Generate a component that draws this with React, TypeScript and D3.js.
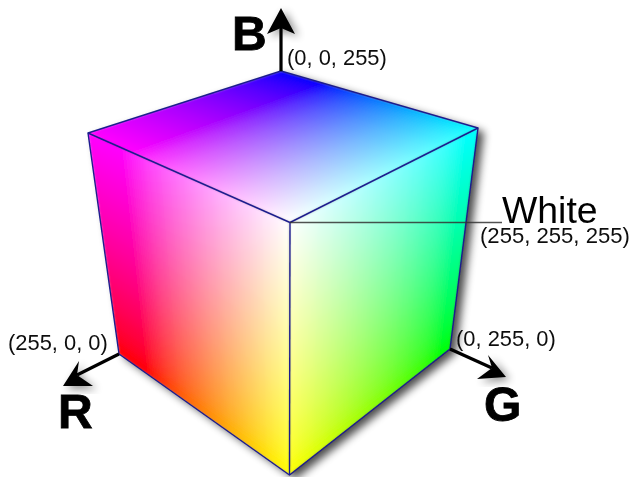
import React from "react";
import * as d3 from "d3";

const WIDTH = 632;
const HEIGHT = 477;
const GRID = 64;

// Screen position of each cube corner, keyed by its R,G,B channels
const cornerKeys = ["001", "101", "011", "111", "100", "010", "110"];
const cornerX = [281, 88, 478, 290, 119, 450, 289.5];
const cornerY = [71, 133, 128, 222.5, 354, 349, 475];

// Each face: corners (a, b, c, d) going a->b along u and a->c along v
const faceNames = ["top", "left", "right"];
const faceCorners = [
  ["001", "011", "101", "111"],
  ["101", "111", "100", "110"],
  ["111", "011", "110", "010"],
];
// Fraction of each face that stays saturated at start/end of u and v
const faceBandU = [[0.22, 1], [0.17, 1], [0, 0.95]];
const faceBandV = [[0, 1], [0, 1], [0, 1]];
const channelGamma = 0.72;

const axisNames = ["B", "R", "G"];
const axisFrom = [[281, 71], [119, 354], [450, 349]];
const axisTip = [[281, 8], [63, 386], [506, 377]];
const axisWingA = [[267, 34], [79, 361], [488, 355]];
const axisWingB = [[295, 34], [93, 386], [477, 379]];
const axisNotch = [[281, 28], [77, 375], [492, 368]];

const axisLabelX = [232, 58, 484];
const axisLabelY = [50, 428, 421];

const noteTexts = ["(0, 0, 255)", "(255, 0, 0)", "(0, 255, 0)", "(255, 255, 255)"];
const noteX = [287, 8, 456, 480];
const noteY = [65, 350, 346, 243];

const pos = (key: string): [number, number] => {
  const i = cornerKeys.indexOf(key);
  return [cornerX[i], cornerY[i]];
};
const channels = (key: string) => key.split("").map(Number);

const lerp = (a: number, b: number, t: number) => d3.interpolateNumber(a, b)(t);
const clampBand = (band: number[]) =>
  d3.scaleLinear().domain(band).range([0, 1]).clamp(true);
const toByte = d3.scalePow().exponent(channelGamma).domain([0, 1]).range([0, 255]);

const line = d3.line<number[]>().x((d) => d[0]).y((d) => d[1]);

function bilinear(a: number[], b: number[], c: number[], d: number[], u: number, v: number) {
  return a.map((_, i) => lerp(lerp(a[i], b[i], u), lerp(c[i], d[i], u), v));
}

function faceCells(fi: number) {
  const [ka, kb, kc, kd] = faceCorners[fi];
  const [pa, pb, pc, pd] = [ka, kb, kc, kd].map(pos);
  const [ca, cb, cc, cd] = [ka, kb, kc, kd].map(channels);
  const bu = clampBand(faceBandU[fi]);
  const bv = clampBand(faceBandV[fi]);
  const t = d3.scaleLinear().domain([0, GRID]).range([0, 1]);
  const cells: { d: string; fill: string }[] = [];
  const at = (i: number, j: number) => bilinear(pa, pb, pc, pd, t(i), t(j));
  for (let i = 0; i < GRID; i++) {
    for (let j = 0; j < GRID; j++) {
      const col = bilinear(ca, cb, cc, cd, bu(t(i + 0.5)), bv(t(j + 0.5)));
      cells.push({
        d: line([at(i, j), at(i + 1, j), at(i + 1, j + 1), at(i, j + 1)])! + "Z",
        fill: d3.rgb(toByte(col[0]), toByte(col[1]), toByte(col[2])).formatHex(),
      });
    }
  }
  return cells;
}

const outlineKeys = ["001", "011", "010", "110", "100", "101"];
const edgePairs = [["111", "101"], ["111", "011"], ["111", "110"]];
const FONT = "'Liberation Sans', Arial, sans-serif";

export default function App() {
  const faces = React.useMemo(() => faceNames.map((_, i) => faceCells(i)), []);
  const outline = line(outlineKeys.map(pos))! + "Z";
  return (
    <svg
      width={WIDTH}
      height={HEIGHT}
      viewBox={`0 0 ${WIDTH} ${HEIGHT}`}
      style={{ position: "absolute", left: 0, top: 0, display: "block", background: "#fff" }}
    >
      <defs>
        <filter id="shadow" x="-20%" y="-20%" width="140%" height="140%">
          <feGaussianBlur stdDeviation="4" />
        </filter>
        <filter id="soft" x="-2%" y="-2%" width="104%" height="104%">
          <feGaussianBlur stdDeviation="0.35" />
        </filter>
        <filter id="smooth" x="-2%" y="-2%" width="104%" height="104%">
          <feGaussianBlur stdDeviation="1.6" />
        </filter>
        <clipPath id="cube">
          <path d={outline} />
        </clipPath>
      </defs>
      <path d={outline} fill="#000" opacity={0.7} transform="translate(6,4)" filter="url(#shadow)" />
      <g clipPath="url(#cube)">
        {faces.map((cells, i) => (
          <g key={faceNames[i]} filter="url(#smooth)">
            {cells.map((c, k) => (
              <path key={k} d={c.d} fill={c.fill} stroke={c.fill} strokeWidth={1} shapeRendering="crispEdges" />
            ))}
          </g>
        ))}
      </g>
      <g filter="url(#soft)">
        <path d={outline} fill="none" stroke="#1c1c8e" strokeWidth={1.4} strokeLinejoin="round" />
        {edgePairs.map(([a, b]) => (
          <path key={a + b} d={line([pos(a), pos(b)])!} stroke="#1c1c8e" strokeWidth={1.4} fill="none" />
        ))}
        <path
          d={line([pos("111"), [502, cornerY[3]]])!}
          stroke="#333"
          strokeOpacity={0.85}
          strokeWidth={1.4}
          fill="none"
        />
        {axisNames.map((name, i) => {
          const head = line([axisTip[i], axisWingA[i], axisNotch[i], axisWingB[i]])! + "Z";
          return (
            <g key={name}>
              <path d={head} fill="#000" opacity={0.45} transform="translate(4,3)" filter="url(#shadow)" />
              <path d={line([axisFrom[i], axisNotch[i]])!} stroke="#000" strokeWidth={3.2} fill="none" />
              <path d={head} fill="#000" />
              <text
                x={axisLabelX[i]}
                y={axisLabelY[i]}
                fontFamily={FONT}
                fontWeight={700}
                fontSize={48}
                stroke="#000"
                strokeWidth={0.8}
                fill="#000"
              >
                {name}
              </text>
            </g>
          );
        })}
        {noteTexts.map((txt, i) => (
          <text key={txt} x={noteX[i]} y={noteY[i]} fontFamily={FONT} fontSize={i === 3 ? 22.1 : 21.9} fill="#111">
            {txt}
          </text>
        ))}
        <text x={502} y={223} fontFamily={FONT} fontSize={37.4} fill="#000">
          White
        </text>
      </g>
    </svg>
  );
}
